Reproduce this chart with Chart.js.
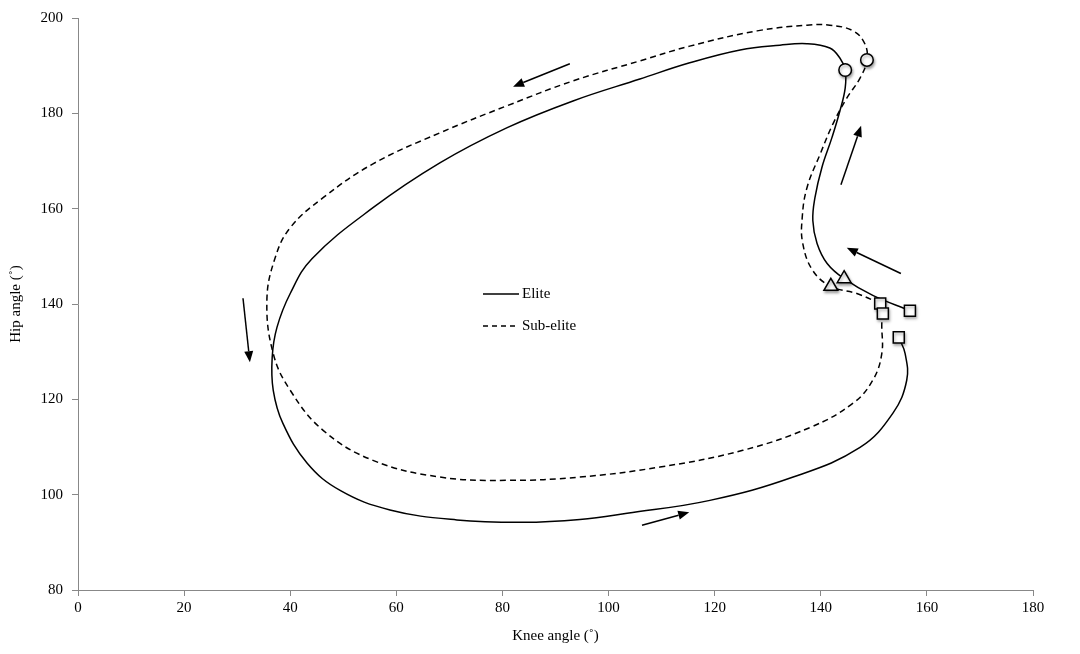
<!DOCTYPE html>
<html>
<head>
<meta charset="utf-8">
<script src="https://cdn.jsdelivr.net/npm/chart.js@4.4.0/dist/chart.umd.min.js"></script>
<style>
  html, body { margin: 0; padding: 0; background: #fff; }
  #wrap { width: 1080px; height: 654px; }
</style>
</head>
<body>
<div id="wrap"><canvas id="chart"></canvas></div>
<script>
// axis ticks
const xTicks = [0, 20, 40, 60, 80, 100, 120, 140, 160, 180];
const yTicks = [80, 100, 120, 140, 160, 180, 200];

// Elite: knee / hip angle over the cycle
const eliteKnee = [156.8, 149.8, 144.4, 141.2, 139.3, 138.5, 138.9, 140.2, 142.1, 143.6, 144.6, 144.6, 143.6, 141.7, 137.4, 132.3, 124.8, 115.3, 105.9, 93.3, 80.9, 68.2, 55.6, 44.1, 40.0, 37.5, 36.6, 36.8, 38.6, 43.2, 49.4, 58.8, 71.4, 83.9, 94.6, 103.5, 119.1, 134.8, 147.4, 153.6, 156.2, 155.9, 154.7];
const eliteHip = [138.6, 141.8, 145.3, 148.5, 152.7, 157.5, 162.3, 168.6, 174.9, 180.5, 185.3, 189.1, 191.6, 193.7, 194.6, 194.3, 193.3, 190.6, 187.2, 182.6, 177.0, 169.6, 160.2, 149.5, 142.2, 135.1, 128.8, 121.9, 115.0, 106.6, 100.9, 96.8, 94.7, 94.2, 94.8, 96.1, 98.8, 103.7, 109.9, 117.1, 124.0, 129.6, 133.0];

// Sub-elite
const subKnee = [151.2, 146.8, 141.9, 138.5, 136.6, 136.5, 137.4, 139.9, 142.3, 144.9, 147.4, 148.7, 148.3, 146.1, 141.7, 137.4, 128.0, 115.3, 105.9, 93.3, 80.9, 68.2, 55.6, 46.2, 40.0, 37.1, 35.6, 36.8, 40.0, 46.2, 55.6, 68.2, 80.9, 94.6, 109.7, 125.3, 138.0, 146.1, 149.8, 151.5, 151.5, 151.7];
const subHip = [140.1, 142.2, 143.7, 147.0, 152.7, 158.1, 164.4, 171.5, 177.8, 183.2, 187.4, 191.2, 194.6, 197.3, 198.5, 198.5, 197.3, 194.1, 191.0, 186.8, 181.6, 175.9, 169.4, 162.3, 156.0, 149.5, 140.7, 129.6, 121.9, 113.5, 107.2, 103.7, 103.0, 103.7, 105.8, 109.3, 114.1, 119.2, 124.0, 129.6, 135.9, 138.0];

// event markers (index into series)
const eliteMarkerIdx = [0, 2, 11, 42];
const subMarkerIdx = [0, 2, 11, 41];
const markerStyles = ['rect', 'triangle', 'circle', 'rect'];

// direction arrows (knee, hip) from -> to
const arrowFrom = [[92.7, 190.4], [31.1, 141.2], [106.3, 93.6], [155.1, 146.4], [143.8, 165.0]];
const arrowTo = [[82.0, 185.6], [32.4, 127.8], [115.2, 96.3], [144.9, 151.8], [147.6, 177.4]];

const pts = (xs, ys) => xs.map((x, i) => ({ x: x, y: ys[i] }));
const markerPts = (xs, ys, idx) => idx.map(i => ({ x: xs[i], y: ys[i] }));
const markerRadius = s => s === 'rect' ? 7.8 : (s === 'triangle' ? 8 : 6.3);

const serif = "'Liberation Serif', 'Times New Roman', serif";

function markerSet(xs, ys, idx) {
  return {
    label: 'markers',
    data: markerPts(xs, ys, idx),
    showLine: false,
    order: -1,
    pointStyle: markerStyles,
    pointRadius: markerStyles.map(markerRadius),
    pointBackgroundColor: '#fff',
    pointBorderColor: '#000',
    pointBorderWidth: 1.5,
    marker: true
  };
}

const extras = {
  id: 'extras',
  beforeDatasetDraw(chart, args) {
    if (chart.data.datasets[args.index].marker) {
      const ctx = chart.ctx;
      ctx.save();
      ctx.shadowColor = 'rgba(0,0,0,0.35)';
      ctx.shadowBlur = 3;
      ctx.shadowOffsetX = 1;
      ctx.shadowOffsetY = 2;
    }
  },
  afterDatasetDraw(chart, args) {
    if (chart.data.datasets[args.index].marker) chart.ctx.restore();
  },
  afterDraw(chart) {
    const ctx = chart.ctx;
    const xs = chart.scales.x, ys = chart.scales.y;
    ctx.save();
    ctx.strokeStyle = '#000';
    ctx.fillStyle = '#000';
    ctx.lineWidth = 1.5;
    arrowFrom.forEach((f, i) => {
      const x0 = xs.getPixelForValue(f[0]), y0 = ys.getPixelForValue(f[1]);
      const x1 = xs.getPixelForValue(arrowTo[i][0]), y1 = ys.getPixelForValue(arrowTo[i][1]);
      const a = Math.atan2(y1 - y0, x1 - x0);
      const hl = 11, hw = 4.5;
      const bx = x1 - hl * Math.cos(a), by = y1 - hl * Math.sin(a);
      ctx.beginPath();
      ctx.moveTo(x0, y0);
      ctx.lineTo(bx, by);
      ctx.stroke();
      ctx.beginPath();
      ctx.moveTo(x1, y1);
      ctx.lineTo(bx + hw * Math.sin(a), by - hw * Math.cos(a));
      ctx.lineTo(bx - hw * Math.sin(a), by + hw * Math.cos(a));
      ctx.closePath();
      ctx.fill();
    });

    // legend
    const lx = 483, ly = [294, 326];
    const dashes = [[], [5, 4]];
    ctx.font = '15px ' + serif;
    ctx.textBaseline = 'middle';
    ctx.textAlign = 'left';
    [chart.data.datasets[0], chart.data.datasets[1]].forEach((ds, i) => {
      ctx.setLineDash(dashes[i]);
      ctx.beginPath();
      ctx.moveTo(lx, ly[i]);
      ctx.lineTo(lx + 36, ly[i]);
      ctx.stroke();
      ctx.fillText(ds.label, lx + 39, ly[i]);
    });
    ctx.restore();
  }
};

new Chart(document.getElementById('chart'), {
  type: 'scatter',
  data: {
    datasets: [
      {
        label: 'Elite',
        data: pts(eliteKnee, eliteHip),
        showLine: true,
        borderColor: '#000',
        borderWidth: 1.5,
        pointRadius: 0,
        tension: 0.4
      },
      {
        label: 'Sub-elite',
        data: pts(subKnee, subHip),
        showLine: true,
        borderColor: '#000',
        borderWidth: 1.5,
        borderDash: [6, 4],
        pointRadius: 0,
        tension: 0.4
      },
      markerSet(eliteKnee, eliteHip, eliteMarkerIdx),
      markerSet(subKnee, subHip, subMarkerIdx)
    ]
  },
  options: {
    responsive: true,
    maintainAspectRatio: false,
    animation: false,
    layout: { padding: { top: 17, right: 47, left: 0, bottom: 0 } },
    plugins: {
      legend: { display: false },
      tooltip: { enabled: false }
    },
    scales: {
      x: {
        type: 'linear',
        min: 0, max: 180,
        afterBuildTicks: s => { s.ticks = xTicks.map(v => ({ value: v })); },
        afterFit: s => { s.height = 64; },
        grid: { drawOnChartArea: false, drawTicks: true, tickLength: 6, color: '#888' },
        border: { display: true, color: '#888', width: 1 },
        ticks: { color: '#000', font: { family: serif, size: 15 }, padding: 3, maxRotation: 0 },
        title: { display: true, text: 'Knee angle (˚)', color: '#000', font: { family: serif, size: 15 }, padding: { top: 9, bottom: 9 } }
      },
      y: {
        type: 'linear',
        min: 80, max: 200,
        afterBuildTicks: s => { s.ticks = yTicks.map(v => ({ value: v })); },
        afterFit: s => { s.width = 78; },
        grid: { drawOnChartArea: false, drawTicks: true, tickLength: 6, color: '#888' },
        border: { display: true, color: '#888', width: 1 },
        ticks: { color: '#000', font: { family: serif, size: 15 }, padding: 9 },
        title: { display: true, text: 'Hip angle (˚)', color: '#000', font: { family: serif, size: 15 }, padding: { top: 7, bottom: 7 } }
      }
    }
  },
  plugins: [extras]
});
</script>
</body>
</html>
